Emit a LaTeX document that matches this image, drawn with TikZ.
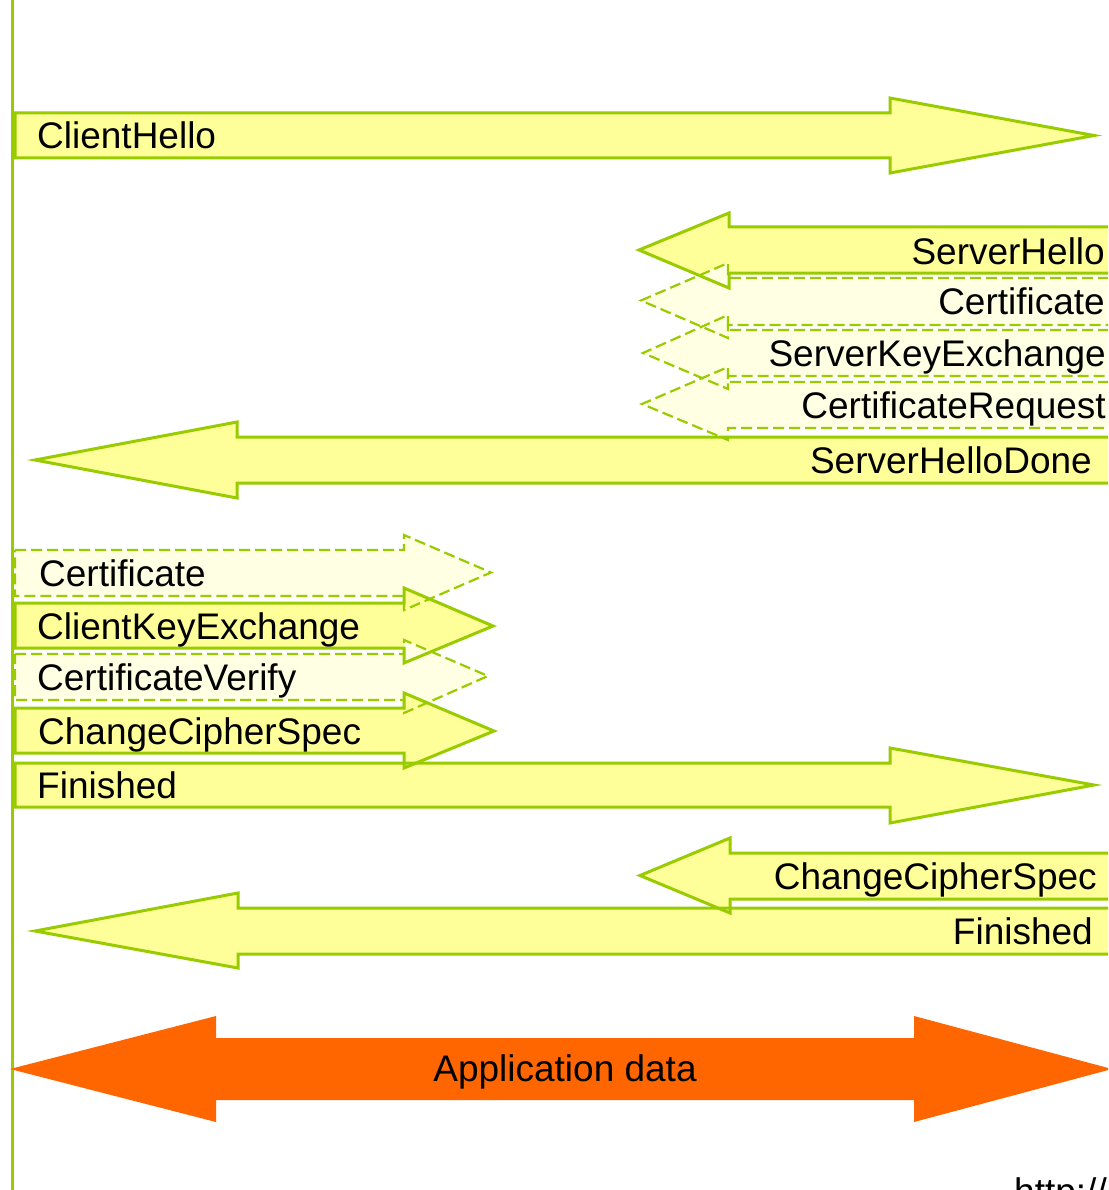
\documentclass[tikz,border=0pt]{standalone}
\usepackage{fontspec}
\setmainfont{Liberation Sans}
\definecolor{lgreen}{HTML}{99CC00}
\definecolor{lyellow}{HTML}{FFFF99}
\definecolor{pyellow}{HTML}{FFFFE3}
\definecolor{aorange}{HTML}{FF6600}
\tikzset{
  msgfill/.style={fill=lyellow},
  optfill/.style={fill=pyellow},
  msgline/.style={draw=lgreen, line width=3pt, line join=miter},
  optline/.style={draw=lgreen, line width=2.2pt, dash pattern=on 11pt off 5pt},
  lbl/.style={inner sep=0pt, font=\fontsize{37}{44}\selectfont},
}
% right arrow path: x0, top, bottom, head base x, head top, head bottom, tip x, tip y
\newcommand{\rpath}[8]{(#1,#2) -- (#4,#2) -- (#4,#5) -- (#7,#8) -- (#4,#6) -- (#4,#3) -- (#1,#3) -- cycle}
% left arrow path: x1 (right end), top, bottom, head base x, head top, head bottom, tip x, tip y
\newcommand{\lpath}[8]{(#1,#2) -- (#4,#2) -- (#4,#5) -- (#7,#8) -- (#4,#6) -- (#4,#3) -- (#1,#3)}
\newcommand{\allarrows}[2]{%
  \path[#1] \rpath{15}{113}{158}{890}{98}{173}{1094}{135.5};
  \path[#1] \lpath{1125}{227}{273}{729}{213}{288}{639}{250};
  \path[#2] \lpath{1125}{278}{325}{728}{263}{338}{641}{300.5};
  \path[#2] \lpath{1125}{330}{376}{728}{315}{389}{643}{353};
  \path[#2] \lpath{1125}{382}{428}{728}{367}{440}{642}{404};
  \path[#1] \lpath{1125}{437}{483}{237}{422}{498}{35}{460};
  \path[#2] \rpath{15}{550}{596}{404}{535}{610}{491}{572.5};
  \path[#1] \rpath{15}{603}{648}{404}{588}{663}{493}{626};
  \path[#2] \rpath{15}{654}{700}{404}{640}{713}{488}{676};
  \path[#1] \rpath{15}{708}{753}{404}{693}{768}{494}{731};
  \path[#1] \rpath{15}{763}{807}{890}{748}{823}{1094}{785};
  \path[#1] \lpath{1125}{853}{899}{730}{838}{913}{640}{875.5};
  \path[#1] \lpath{1125}{908}{954}{238}{893}{968}{35}{931};
}
\begin{document}
\begin{tikzpicture}[x=1pt,y=-1pt]
\clip (0,0) rectangle (1108,1190);
\fill[white] (0,0) rectangle (1108,1190);
% client timeline
\coordinate (ltop) at (12,0);
\coordinate (lbot) at (12,1190);
\draw[lgreen, line width=3pt] (ltop) -- (lbot);

% message arrows: fills first, then outlines on top
\allarrows{msgfill}{optfill}
\allarrows{msgline}{optline}

% labels
\node[lbl, anchor=base west] (ch) at (37,149) {ClientHello};
\node[lbl, anchor=base east] (sh) at (1105,264) {ServerHello};
\node[lbl, anchor=base east] (scert) at (1105,314) {Certificate};
\node[lbl, anchor=base east] (ske) at (1106,366) {ServerKeyExchange};
\node[lbl, anchor=base east] (creq) at (1106,418) {CertificateRequest};
\node[lbl, anchor=base east] (shd) at (1092,473) {ServerHelloDone};
\node[lbl, anchor=base west] (ccert) at (39,586) {Certificate};
\node[lbl, anchor=base west] (cke) at (37,639) {ClientKeyExchange};
\node[lbl, anchor=base west] (cv) at (37,690) {CertificateVerify};
\node[lbl, anchor=base west] (cccs) at (38,744) {ChangeCipherSpec};
\node[lbl, anchor=base west] (cfin) at (37,798) {Finished};
\node[lbl, anchor=base east] (sccs) at (1097,889) {ChangeCipherSpec};
\node[lbl, anchor=base east] (sfin) at (1093,944) {Finished};

% Application data
\fill[aorange] (10,1069) -- (216,1016) -- (216,1038) -- (914,1038) -- (914,1016)
  -- (1112,1069) -- (914,1122) -- (914,1100) -- (216,1100) -- (216,1122) -- cycle;
\node[lbl] (app) at (565,1072) {Application data};

% footer (cut off at the page edge, as in the source)
\node[lbl, anchor=base west] (url) at (1014,1204) {http://};
\end{tikzpicture}
\end{document}
